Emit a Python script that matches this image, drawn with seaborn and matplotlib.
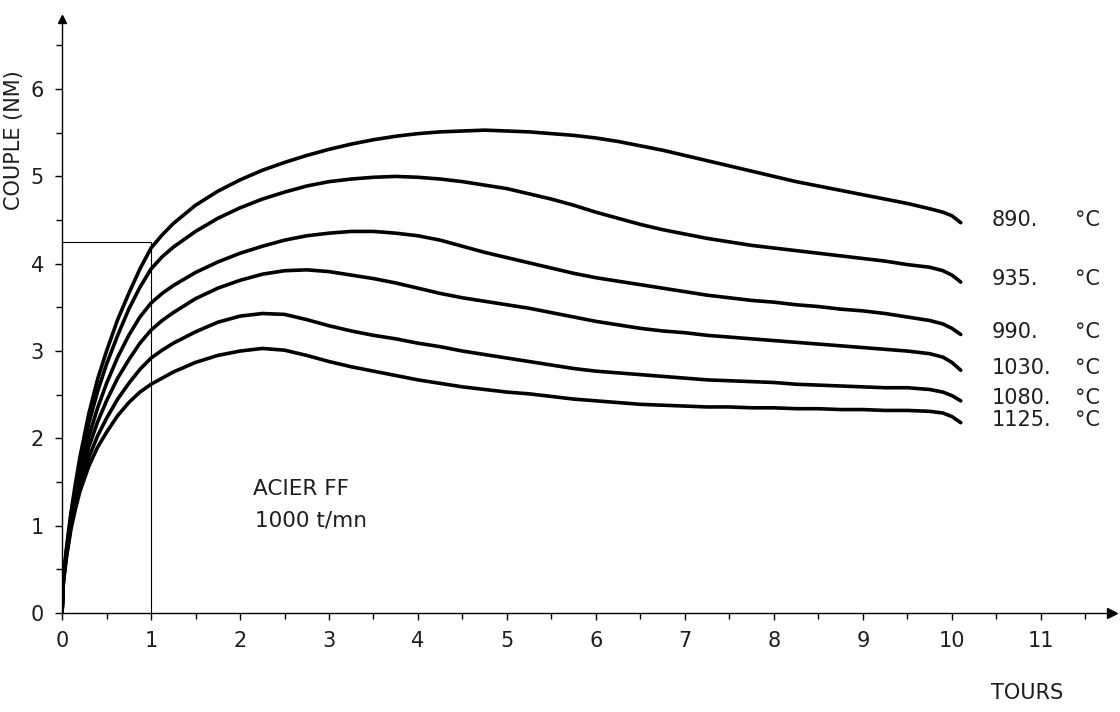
import matplotlib
matplotlib.use("Agg")
import matplotlib.pyplot as plt
import seaborn as sns
import pandas as pd

# ---- data ----
tours = [0, 0.015, 0.05, 0.1, 0.15, 0.2, 0.3, 0.4, 0.5, 0.625, 0.75, 0.875,
         1.0, 1.125,
         1.25, 1.5, 1.75, 2.0, 2.25, 2.5, 2.75, 3.0, 3.25, 3.5, 3.75, 4.0, 4.25, 4.5, 4.75,
         5.0, 5.25, 5.5, 5.75, 6.0, 6.25, 6.5, 6.75, 7.0, 7.25, 7.5, 7.75, 8.0, 8.25, 8.5,
         8.75, 9.0, 9.25, 9.5, 9.75,
         9.9, 10.0, 10.1]

couple_890 = [0, 0.40, 0.75, 1.15, 1.48, 1.78, 2.28, 2.68, 3.00, 3.36, 3.66, 3.94,
              4.18, 4.33,
              4.46, 4.67, 4.83, 4.96, 5.07, 5.16, 5.24, 5.31, 5.37, 5.42, 5.46, 5.49, 5.51, 5.52, 5.53,
              5.52, 5.51, 5.49, 5.47, 5.44, 5.40, 5.35, 5.30, 5.24, 5.18, 5.12, 5.06, 5.00, 4.94, 4.89,
              4.84, 4.79, 4.74, 4.69, 4.63,
              4.59, 4.55, 4.47]
couple_935 = [0, 0.39, 0.72, 1.11, 1.42, 1.70, 2.17, 2.54, 2.85, 3.18, 3.48, 3.73,
              3.94, 4.08,
              4.19, 4.37, 4.52, 4.64, 4.74, 4.82, 4.89, 4.94, 4.97, 4.99, 5.00, 4.99, 4.97, 4.94, 4.90,
              4.86, 4.80, 4.74, 4.67, 4.59, 4.52, 4.45, 4.39, 4.34, 4.29, 4.25, 4.21, 4.18, 4.15, 4.12,
              4.09, 4.06, 4.03, 3.99, 3.96,
              3.92, 3.87, 3.79]
couple_990 = [0, 0.38, 0.70, 1.07, 1.36, 1.61, 2.02, 2.35, 2.63, 2.93, 3.18, 3.39,
              3.55, 3.66,
              3.75, 3.90, 4.02, 4.12, 4.20, 4.27, 4.32, 4.35, 4.37, 4.37, 4.35, 4.32, 4.27, 4.20, 4.13,
              4.07, 4.01, 3.95, 3.89, 3.84, 3.80, 3.76, 3.72, 3.68, 3.64, 3.61, 3.58, 3.56, 3.53, 3.51,
              3.48, 3.46, 3.43, 3.39, 3.35,
              3.31, 3.26, 3.19]
couple_1030 = [0, 0.37, 0.68, 1.03, 1.30, 1.53, 1.90, 2.19, 2.43, 2.69, 2.90, 3.09,
               3.24, 3.35,
               3.44, 3.60, 3.72, 3.81, 3.88, 3.92, 3.93, 3.91, 3.87, 3.83, 3.78, 3.72, 3.66, 3.61, 3.57,
               3.53, 3.49, 3.44, 3.39, 3.34, 3.30, 3.26, 3.23, 3.21, 3.18, 3.16, 3.14, 3.12, 3.10, 3.08,
               3.06, 3.04, 3.02, 3.00, 2.97,
               2.93, 2.87, 2.78]
couple_1080 = [0, 0.36, 0.66, 0.99, 1.24, 1.45, 1.78, 2.03, 2.23, 2.45, 2.63, 2.79,
               2.92, 3.01,
               3.09, 3.22, 3.33, 3.40, 3.43, 3.42, 3.36, 3.29, 3.23, 3.18, 3.14, 3.09, 3.05, 3.00, 2.96,
               2.92, 2.88, 2.84, 2.80, 2.77, 2.75, 2.73, 2.71, 2.69, 2.67, 2.66, 2.65, 2.64, 2.62, 2.61,
               2.60, 2.59, 2.58, 2.58, 2.56,
               2.53, 2.49, 2.43]
couple_1125 = [0, 0.35, 0.64, 0.96, 1.19, 1.39, 1.68, 1.90, 2.07, 2.26, 2.41, 2.53,
               2.62, 2.69,
               2.76, 2.87, 2.95, 3.00, 3.03, 3.01, 2.95, 2.88, 2.82, 2.77, 2.72, 2.67, 2.63, 2.59, 2.56,
               2.53, 2.51, 2.48, 2.45, 2.43, 2.41, 2.39, 2.38, 2.37, 2.36, 2.36, 2.35, 2.35, 2.34, 2.34,
               2.33, 2.33, 2.32, 2.32, 2.31,
               2.29, 2.25, 2.18]

temperatures = ["890", "935", "990", "1030", "1080", "1125"]
series = [couple_890, couple_935, couple_990, couple_1030, couple_1080, couple_1125]
for s in series:
    if len(s) != len(tours):
        raise ValueError(f"length mismatch {len(s)} vs {len(tours)}")

x_ticks = list(range(0, 12))
y_ticks = list(range(0, 7))
ref_tour = 1.0
ref_couple = 4.25

x_label = "TOURS"
y_label = "COUPLE (NM)"
note_lines = ["ACIER FF", "1000 t/mn"]

# ---- build long-form table ----
rows = []
for t, ys in zip(temperatures, series):
    for x, y in zip(tours, ys):
        rows.append({"tours": x, "couple": y, "temp": t})
df = pd.DataFrame(rows)

sns.set_theme(style="white")
plt.rcParams["font.family"] = ["DejaVu Sans"]

TXT = "#1e1e1e"
fig = plt.figure(figsize=(11.2, 7.12), dpi=100)
ax = fig.add_axes([0.0554, 0.139, 0.9375, 0.834])

sns.lineplot(data=df, x="tours", y="couple", hue="temp",
             palette={t: "black" for t in temperatures},
             estimator=None, sort=False, legend=False, linewidth=2.6, ax=ax)
for ln in ax.lines:
    ln.set_solid_capstyle("round")
    ln.set_solid_joinstyle("round")

# reference lines at 1 tour
ax.plot([0, ref_tour], [ref_couple, ref_couple], color="black", lw=0.8)
ax.plot([ref_tour, ref_tour], [0, ref_couple], color="black", lw=0.8)

ax.set_xlim(0, 11.8)
ax.set_ylim(0, 6.8)

for s in ["top", "right"]:
    ax.spines[s].set_visible(False)
for s in ["left", "bottom"]:
    ax.spines[s].set_color("black")
    ax.spines[s].set_linewidth(1.0)

ax.set_xticks(x_ticks)
ax.set_xticklabels([str(v) for v in x_ticks])
ax.set_yticks(y_ticks)
ax.set_yticklabels([str(v) for v in y_ticks])
ax.set_xticks([v + 0.5 for v in x_ticks], minor=True)
ax.set_yticks([v + 0.5 for v in y_ticks], minor=True)
ax.tick_params(axis="both", which="major", direction="out", length=5, width=1.0,
               color="black", labelsize=15, labelcolor=TXT, bottom=True, left=True)
ax.tick_params(axis="both", which="minor", direction="out", length=4, width=1.0,
               color="black", bottom=True, left=True)
ax.tick_params(axis="x", which="major", pad=8)
ax.tick_params(axis="y", which="major", pad=8)

# axis arrows
ax.plot(11.8, 0, marker=">", color="black", markersize=7, clip_on=False)
ax.plot(0, 6.8, marker="^", color="black", markersize=6, clip_on=False)

ax.set_ylabel(y_label, fontsize=15, color=TXT)
ax.yaxis.set_label_coords(-0.036, 0.797)
ax.set_xlabel(x_label, fontsize=15, color=TXT, ha="center")
ax.xaxis.set_label_coords(0.919, -0.118)

# series labels next to curve ends
for t, ys in zip(temperatures, series):
    yl = ys[-1] + 0.03
    ax.text(10.45, yl, f"{t}.", fontsize=15, color=TXT, va="center", ha="left")
    ax.text(11.38, yl, "°C", fontsize=15, color=TXT, va="center", ha="left")

# note
ax.text(2.15, 1.42, note_lines[0], fontsize=15.5, color=TXT, va="center", ha="left")
ax.text(2.17, 1.06, note_lines[1], fontsize=15.5, color=TXT, va="center", ha="left")

fig.savefig("out.png", dpi=100, facecolor="white")
